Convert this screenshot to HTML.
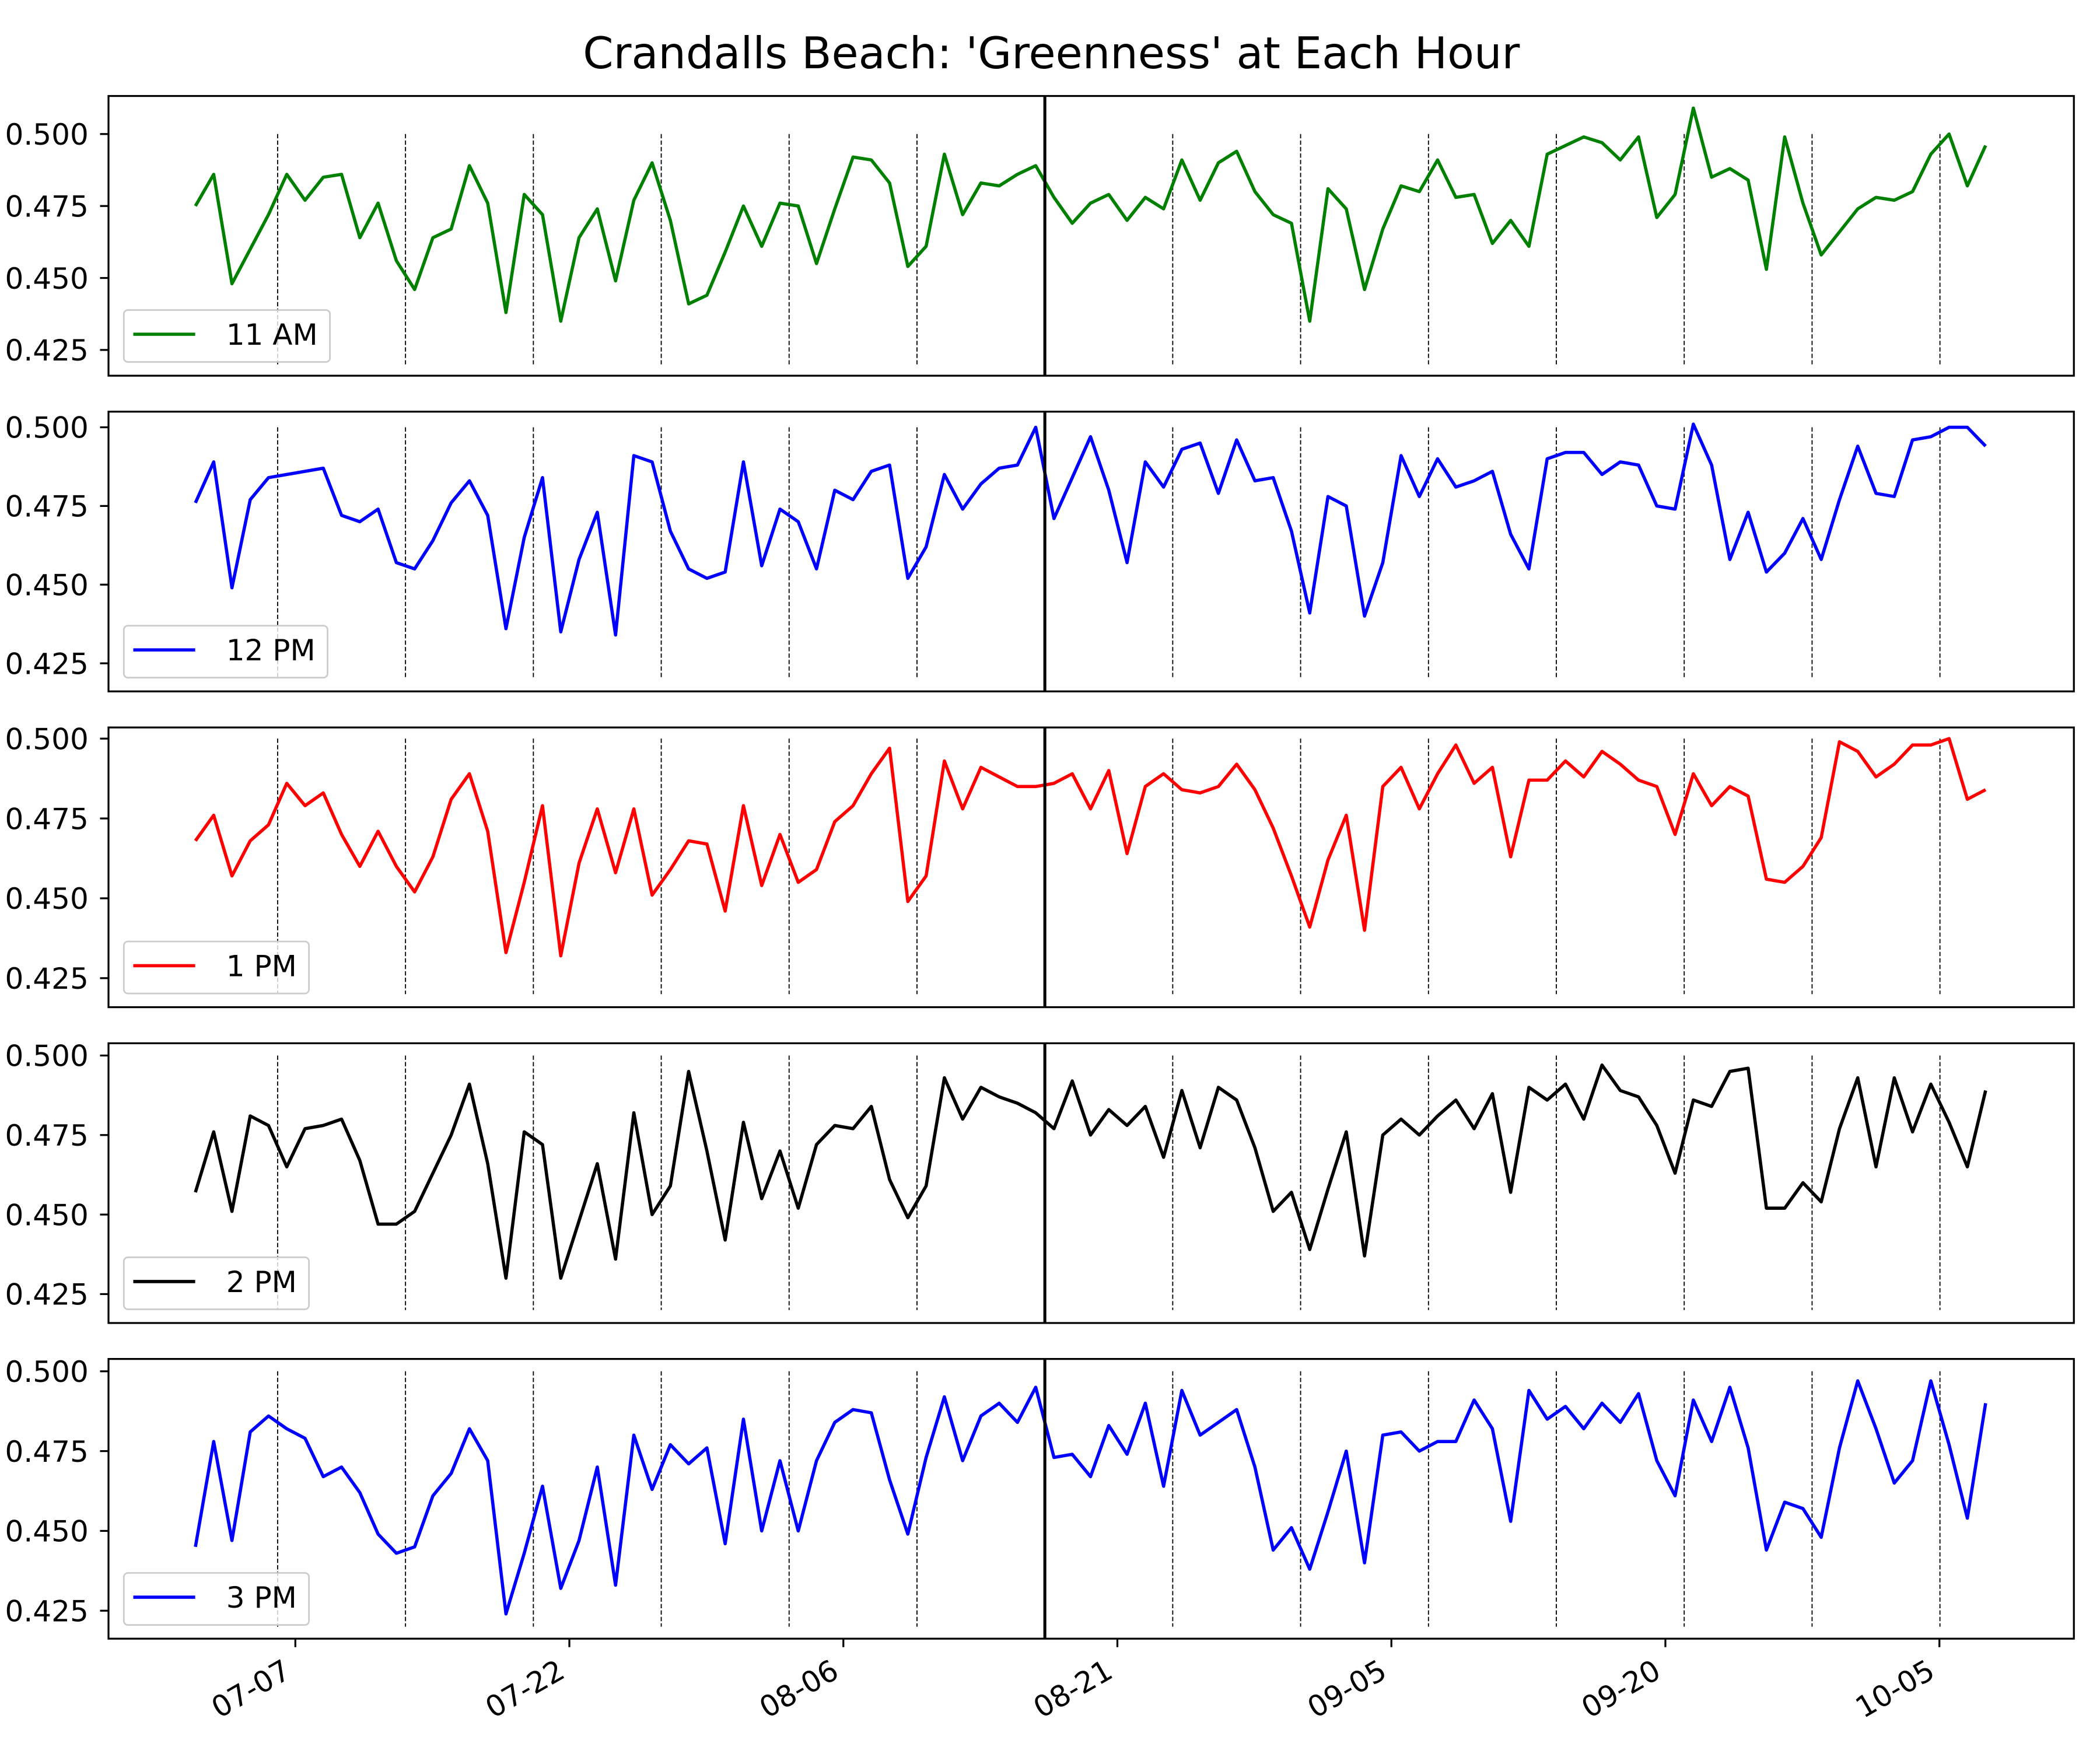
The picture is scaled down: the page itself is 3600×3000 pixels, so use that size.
<!DOCTYPE html>
<html><head><meta charset="utf-8">
<style>
html,body{margin:0;padding:0;background:#fff;}
svg{display:block;}
text{font-family:"DejaVu Sans","Liberation Sans",sans-serif;}
</style></head>
<body>
<svg id="chart" width="3600" height="3000" viewBox="0 0 1560 1300" xmlns="http://www.w3.org/2000/svg">
<rect x="0" y="0" width="1560" height="1300" fill="#fff"/>
<text x="781" y="50.6" font-size="32.5" text-anchor="middle">Crandalls Beach: 'Greenness' at Each Hour</text>
</svg>
<script>
const seriesLabels = ["11 AM","12 PM","1 PM","2 PM","3 PM"];
const seriesColors = ["#008000","#0000ff","#ff0000","#000000","#0000ff"];
const yTickValues = [0.425,0.450,0.475,0.500];
const yTickLabels = ["0.425","0.450","0.475","0.500"];
const xTickDays = [0,15,30,45,60,75,90];
const xTickLabels = ["07-07","07-22","08-06","08-21","09-05","09-20","10-05"];
const firstDay = -5.47;
const weekLineDays = [-0.97,6.03,13.03,20.03,27.03,34.03,48.03,55.03,62.03,69.03,76.03,83.03,90.03];
const solidLineDay = 41.03;
const yDomains = [[0.41605,0.51322],[0.41608,0.50497],[0.41591,0.50349],[0.41591,0.50385],[0.41624,0.50387]];
const s11am = [.475,.486,.448,.460,.472,.486,.477,.485,.486,.464,
.476,.456,.446,.464,.467,.489,.476,.438,.479,.472,
.435,.464,.474,.449,.477,.490,.470,.441,.444,.459,
.475,.461,.476,.475,.455,.474,.492,.491,.483,.454,
.461,.493,.472,.483,.482,.486,.489,.478,.469,.476,
.479,.470,.478,.474,.491,.477,.490,.494,.480,.472,
.469,.435,.481,.474,.446,.467,.482,.480,.491,.478,
.479,.462,.470,.461,.493,.496,.499,.497,.491,.499,
.471,.479,.509,.485,.488,.484,.453,.499,.476,.458,
.466,.474,.478,.477,.480,.493,.500,.482,.496];
const s12pm = [.476,.489,.449,.477,.484,.485,.486,.487,.472,.470,
.474,.457,.455,.464,.476,.483,.472,.436,.465,.484,
.435,.458,.473,.434,.491,.489,.467,.455,.452,.454,
.489,.456,.474,.470,.455,.480,.477,.486,.488,.452,
.462,.485,.474,.482,.487,.488,.500,.471,.484,.497,
.480,.457,.489,.481,.493,.495,.479,.496,.483,.484,
.467,.441,.478,.475,.440,.457,.491,.478,.490,.481,
.483,.486,.466,.455,.490,.492,.492,.485,.489,.488,
.475,.474,.501,.488,.458,.473,.454,.460,.471,.458,
.477,.494,.479,.478,.496,.497,.500,.500,.494];
const s1pm = [.468,.476,.457,.468,.473,.486,.479,.483,.470,.460,
.471,.460,.452,.463,.481,.489,.471,.433,.455,.479,
.432,.461,.478,.458,.478,.451,.459,.468,.467,.446,
.479,.454,.470,.455,.459,.474,.479,.489,.497,.449,
.457,.493,.478,.491,.488,.485,.485,.486,.489,
.478,.490,.464,.485,.489,.484,.483,.485,.492,.484,
.472,.457,.441,.462,.476,.440,.485,.491,.478,.489,
.498,.486,.491,.463,.487,.487,.493,.488,.496,.492,
.487,.485,.470,.489,.479,.485,.482,.456,.455,.460,
.469,.499,.496,.488,.492,.498,.498,.500,.481,.484];
const s2pm = [.457,.476,.451,.481,.478,.465,.477,.478,.480,.467,
.447,.447,.451,.463,.475,.491,.466,.430,.476,.472,
.430,.448,.466,.436,.482,.450,.459,.495,.470,.442,
.479,.455,.470,.452,.472,.478,.477,.484,.461,.449,
.459,.493,.480,.490,.487,.485,.482,.477,.492,.475,
.483,.478,.484,.468,.489,.471,.490,.486,.471,.451,
.457,.439,.458,.476,.437,.475,.480,.475,.481,.486,
.477,.488,.457,.490,.486,.491,.480,.497,.489,.487,
.478,.463,.486,.484,.495,.496,.452,.452,.460,.454,
.477,.493,.465,.493,.476,.491,.479,.465,.489];
const s3pm = [.445,.478,.447,.481,.486,.482,.479,.467,.470,.462,
.449,.443,.445,.461,.468,.482,.472,.424,.443,.464,
.432,.447,.470,.433,.480,.463,.477,.471,.476,.446,
.485,.450,.472,.450,.472,.484,.488,.487,.466,.449,
.473,.492,.472,.486,.490,.484,.495,.473,.474,.467,
.483,.474,.490,.464,.494,.480,.484,.488,.470,.444,
.451,.438,.456,.475,.440,.480,.481,.475,.478,.478,
.491,.482,.453,.494,.485,.489,.482,.490,.484,.493,
.472,.461,.491,.478,.495,.476,.444,.459,.457,.448,
.476,.497,.482,.465,.472,.497,.477,.454,.490];
const allSeries = [s11am,s12pm,s1pm,s2pm,s3pm];

const NS = "http://www.w3.org/2000/svg";
const svg = document.getElementById("chart");
const axLeft = 80.6, axRight = 1540.6;
const panelTops = [71.3,305.8,540.4,775.0,1009.5];
const panelH = 207.8;
const x0 = 219.4, pxPerDay = 13.57;
function xScale(d){ return x0 + d*pxPerDay; }
function mk(tag, attrs, parent){
  const e = document.createElementNS(NS, tag);
  for (const k in attrs) e.setAttribute(k, attrs[k]);
  (parent||svg).appendChild(e);
  return e;
}
const slugs = ["11am","12pm","1pm","2pm","3pm"];
for (let p=0;p<5;p++){
  const top = panelTops[p], bot = top+panelH;
  const [ymin,ymax] = yDomains[p];
  const yScale = v => bot - (v-ymin)/(ymax-ymin)*panelH;
  const g = mk("g",{});
  
  
  weekLineDays.forEach(d=>{
    const l = mk("line",{x1:xScale(d),x2:xScale(d),y1:yScale(0.5),y2:yScale(0.42),stroke:"#000","stroke-width":0.8,"stroke-dasharray":"3.2 1.6"},g);
    
    
  });
  const vals = allSeries[p];
  const pts = vals.map((v,i)=> xScale(firstDay+i).toFixed(2)+","+yScale(v).toFixed(2)).join(" ");
  const pl = mk("polyline",{points:pts,fill:"none",stroke:seriesColors[p],"stroke-width":2.4,"stroke-linejoin":"round"},g);
  
  
  const sl = mk("line",{x1:xScale(solidLineDay),x2:xScale(solidLineDay),y1:top,y2:bot,stroke:"#000","stroke-width":2.2},g);
  
  
  const fr = mk("rect",{x:axLeft,y:top,width:axRight-axLeft,height:panelH,fill:"none",stroke:"#000","stroke-width":1.4},g);
  
  
  yTickValues.forEach((v,i)=>{
    const y = yScale(v);
    const tk = mk("line",{x1:axLeft-6.3,x2:axLeft,y1:y,y2:y,stroke:"#000","stroke-width":1.4},g);
    
    
    const t = mk("text",{x:65.8,y:y+7.9,"font-size":21.7,"text-anchor":"end"},g);
    t.textContent = yTickLabels[i];
    
    
  });
  const lg = mk("g",{},g);
  
  
  const box = mk("rect",{x:92,y:bot-48.8,height:38.6,width:150,rx:3,fill:"#fff","fill-opacity":0.8,stroke:"#cccccc","stroke-width":1.2},lg);
  
  
  const ll = mk("line",{x1:99,x2:145,y1:bot-30.8,y2:bot-30.8,stroke:seriesColors[p],"stroke-width":2.4},lg);
  
  
  const lt = mk("text",{x:168,y:bot-23,"font-size":21.7},lg);
  lt.textContent = seriesLabels[p];
  
  
  const w = lt.getComputedTextLength();
  box.setAttribute("width", (168 + w + 9 - 92).toFixed(1));
  if (p===4){
    xTickDays.forEach((d,i)=>{
      const x = xScale(d);
      const tk = mk("line",{x1:x,x2:x,y1:bot,y2:bot+6.3,stroke:"#000","stroke-width":1.4},g);
      
      
      const t = mk("text",{"font-size":21.7,"text-anchor":"end",transform:"translate("+(x-2)+","+(bot+28)+") rotate(-30)"},g);
      t.textContent = xTickLabels[i];
      
      
    });
  }
}
</script>
</body></html>
